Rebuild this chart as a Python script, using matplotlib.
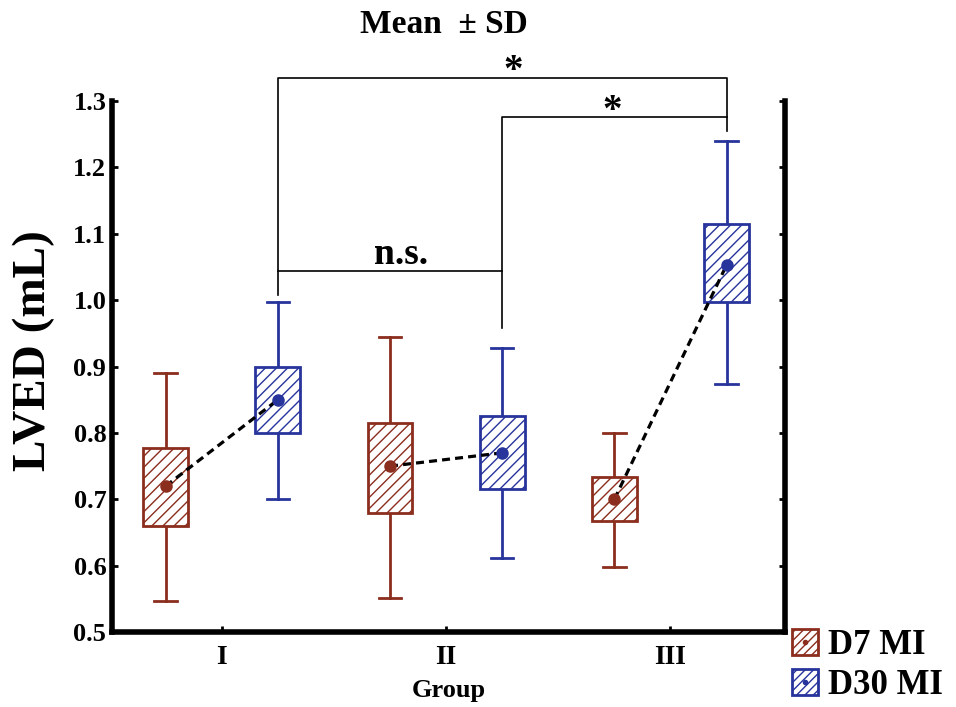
import matplotlib
matplotlib.use("Agg")
import matplotlib.pyplot as plt
from matplotlib.patches import Rectangle, Patch
from matplotlib.lines import Line2D
import numpy as np

plt.rcParams['font.family'] = ['Liberation Serif', 'DejaVu Serif']
plt.rcParams['hatch.linewidth'] = 1.0

groups = ["I", "II", "III"]
series = ["D7 MI", "D30 MI"]
colors = ["#8B2E1E", "#27349C"]

means = {"D7 MI": [0.72, 0.75, 0.70], "D30 MI": [0.85, 0.77, 1.053]}
box_lo = {"D7 MI": [0.660, 0.680, 0.667], "D30 MI": [0.800, 0.715, 0.998]}
box_hi = {"D7 MI": [0.778, 0.815, 0.733], "D30 MI": [0.900, 0.825, 1.115]}
wh_lo = {"D7 MI": [0.547, 0.551, 0.598], "D30 MI": [0.700, 0.611, 0.873]}
wh_hi = {"D7 MI": [0.891, 0.945, 0.800], "D30 MI": [0.998, 0.928, 1.240]}

yticks = [0.5, 0.6, 0.7, 0.8, 0.9, 1.0, 1.1, 1.2, 1.3]

fig = plt.figure(figsize=(9.56, 7.07), dpi=100)
ax = fig.add_axes([0.117, 0.106, 0.704, 0.751])

offsets = [-0.25, 0.25]
bw = 0.2
cw = 0.1
x = np.arange(len(groups))

for s, off, c in zip(series, offsets, colors):
    for i in range(len(groups)):
        xc = x[i] + off
        ax.plot([xc, xc], [wh_lo[s][i], box_lo[s][i]], color=c, lw=2, zorder=2)
        ax.plot([xc, xc], [box_hi[s][i], wh_hi[s][i]], color=c, lw=2, zorder=2)
        ax.plot([xc - cw / 2, xc + cw / 2], [wh_lo[s][i]] * 2, color=c, lw=2, zorder=2)
        ax.plot([xc - cw / 2, xc + cw / 2], [wh_hi[s][i]] * 2, color=c, lw=2, zorder=2)
        ax.add_patch(Rectangle((xc - bw / 2, box_lo[s][i]), bw, box_hi[s][i] - box_lo[s][i],
                               facecolor="white", edgecolor=c, hatch="///", lw=2, zorder=3))

for i in range(len(groups)):
    ax.plot([x[i] + offsets[0], x[i] + offsets[1]], [means["D7 MI"][i], means["D30 MI"][i]],
            color="black", ls=(0, (2.5, 1.6)), lw=2.3, zorder=4)

for s, off, c in zip(series, offsets, colors):
    ax.plot(x + off, means[s], 'o', color=c, ms=8, zorder=5)

# significance brackets
kw = dict(color="black", lw=1.2, clip_on=False, zorder=1)
ax.plot([0.25, 0.25, 2.25, 2.25], [1.008, 1.335, 1.335, 1.255], **kw)
ax.plot([1.25, 1.25, 2.25], [0.958, 1.276, 1.276], **kw)
ax.plot([0.25, 1.25], [1.044, 1.044], **kw)
ax.text(0.8, 1.0545, "n.s.", ha="center", va="baseline", fontsize=27, fontweight="bold")
ax.text(1.3, 1.316, "*", ha="center", va="bottom", fontsize=28, fontweight="bold")
ax.text(1.74, 1.257, "*", ha="center", va="bottom", fontsize=28, fontweight="bold")

ax.set_xlim(-0.49, 2.51)
ax.set_ylim(0.5, 1.3)
ax.set_yticks(yticks)
ax.set_yticklabels([f"{v:.1f}" for v in yticks])
ax.set_xticks(x)
ax.set_xticklabels(groups)
for lab in ax.get_xticklabels() + ax.get_yticklabels():
    lab.set_fontweight("bold")
ax.tick_params(axis="y", direction="in", length=4, width=2, labelsize=19, right=True, pad=4)
ax.tick_params(axis="x", direction="in", length=4, width=2, labelsize=20, pad=9)
ax.spines["top"].set_visible(False)
for sp in ["left", "right", "bottom"]:
    ax.spines[sp].set_linewidth(4)
ax.set_ylabel("LVED (mL)", fontsize=34, fontweight="bold")
ax.yaxis.set_label_coords(-0.084, 0.531)
ax.set_xlabel("Group", fontsize=19, fontweight="bold", labelpad=7)

fig.text(0.464, 0.966, "Mean  ± SD", ha="center", va="center", fontsize=24, fontweight="bold")

handles = []
for c in colors:
    handles.append((Patch(facecolor="white", edgecolor=c, hatch="////", lw=2),
                    Line2D([], [], marker='o', color=c, ms=3, ls="none")))
fig.legend(handles, series, loc="upper left", bbox_to_anchor=(0.828, 0.110),
           frameon=False, prop={"size": 25, "weight": "bold"},
           handlelength=0.75, handleheight=0.75, handletextpad=0.3,
           labelspacing=0.2, borderpad=0.0, borderaxespad=0.0)

fig.savefig("out.png", dpi=100)
